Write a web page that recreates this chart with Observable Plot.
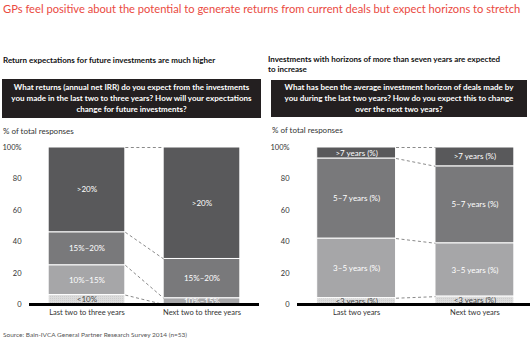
<!DOCTYPE html>
<html><head><meta charset="utf-8">
<script src="https://cdn.jsdelivr.net/npm/d3@7"></script>
<script src="https://cdn.jsdelivr.net/npm/@observablehq/plot@0.6"></script>
<style>
html,body{margin:0;padding:0;background:#fff;}
#root{position:relative;width:530px;height:344px;overflow:hidden;font-family:Lato,"Open Sans",sans-serif;color:#222;}
.abs{position:absolute;white-space:nowrap;}
.title{left:3px;top:2px;font-size:12px;color:#ea4a3f;}
.sub{font-size:8px;font-weight:bold;color:#111;line-height:10px;}
.box{background:#231f20;color:#fff;font-weight:bold;font-size:8px;line-height:11px;text-align:center;display:flex;align-items:center;justify-content:center;white-space:normal;}
.unit{font-size:8px;color:#333;}
.src{left:3px;top:331px;font-size:6.5px;color:#555;}
.chart{position:absolute;top:140px;}
</style></head>
<body><div id="root">
<div class="abs title" id="title">GPs feel positive about the potential to generate returns from current deals but expect horizons to stretch</div>
<div class="abs sub" style="left:3px;top:55px;">Return expectations for future investments are much higher</div>
<div class="abs sub" style="left:268px;top:54px;">Investments with horizons of more than seven years are expected<br>to increase</div>
<div class="abs box" style="left:2px;top:79px;width:259px;height:39px;">What returns (annual net IRR) do you expect from the investments<br>you made in the last two to three years? How will your expectations<br>change for future investments?</div>
<div class="abs box" style="left:271px;top:80px;width:256px;height:37px;">What has been the average investment horizon of deals made by<br>you during the last two years? How do you expect this to change<br>over the next two years?</div>
<div class="abs unit" style="left:3px;top:126px;">% of total responses</div>
<div class="abs unit" style="left:272px;top:125px;">% of total responses</div>
<div class="chart" id="left" style="left:0px;"></div>
<div class="chart" id="right" style="left:265px;"></div>
<div class="abs src">Source: Bain-IVCA General Partner Research Survey 2014 (n=53)</div>
</div>
<script>
// ---- data ----
const returnPeriods = ["Last two to three years", "Next two to three years"];
const returnSegments = ["<10%", "10%–15%", "15%–20%", ">20%"];
const returnLast = [6, 19, 21, 54];
const returnNext = [0, 4, 25, 71];

const horizonPeriods = ["Last two years", "Next two years"];
const horizonSegments = ["<3 years (%)", "3–5 years (%)", "5–7 years (%)", ">7 years (%)"];
const horizonLast = [4, 38, 51, 7];
const horizonNext = [5, 34, 49, 12];

const yTicks = [0, 20, 40, 60, 80, 100];
const segColors = ["#dadada", "#a6a6a8", "#79797b", "#59595b"];
const labelColors = ["#4a4a4a", "#ffffff", "#ffffff", "#ffffff"];

// fit title width
(function(){
  const t = document.getElementById("title");
  const target = 518;
  const w = t.getBoundingClientRect().width;
  t.style.fontSize = (12 * target / w) + "px";
})();

function buildChart(el, periods, segments, series, opts) {
  const hw = 1/3;
  const rows = [];
  const tops = [];
  series.forEach((vals, i) => {
    let acc = 0;
    const t = [];
    vals.forEach((v, k) => {
      rows.push({i, seg: segments[k], k, y1: acc, y2: acc + v, v});
      acc += v;
      t.push(acc);
    });
    tops.push(t);
  });
  const links = segments.map((s, k) => ({y1: tops[0][k], y2: tops[1][k]}));
  const labels = rows.filter(d => !(d.v === 0));
  const fillScale = d3.scaleOrdinal(segments, segColors);
  const textScale = d3.scaleOrdinal(segments, labelColors);

  const plot = Plot.plot({
    width: 265, height: 180,
    marginTop: 7, marginBottom: 16, marginLeft: opts.ml, marginRight: opts.mr,
    style: {fontFamily: "Lato, 'Open Sans', sans-serif", background: "transparent"},
    x: {type: "linear", domain: opts.xd, axis: null},
    y: {domain: [0, 100], axis: null},
    marks: [
      Plot.axisY({ticks: yTicks, tickSize: 0, tickPadding: 8, fontSize: 7.5, color: "#333", label: null,
                  tickFormat: d => d === 100 ? "100%" : String(d)}),
      Plot.axisX({ticks: [0, 1], tickSize: 0, tickPadding: 5, fontSize: 7.5, color: "#333", label: null,
                  tickFormat: i => periods[i]}),
      Plot.rectY(rows, {x1: d => d.i - hw, x2: d => d.i + hw, y1: "y1", y2: "y2",
                        fill: d => fillScale(d.seg), stroke: "#fff", strokeWidth: 1}),
      Plot.rectY(rows.filter(d => d.k === 0 && d.v > 0), {x1: d => d.i - hw, x2: d => d.i + hw, y1: "y1", y2: "y2",
                        fill: "url(#dots)", stroke: "#fff", strokeWidth: 1}),
      Plot.link(links, {x1: hw, x2: 1 - hw, y1: "y1", y2: "y2",
                        stroke: "#8a8a8a", strokeWidth: 1, strokeDasharray: "3,2.5"}),
      Plot.text(labels, {x: "i", y: d => (d.y1 + d.y2) / 2, text: "seg", fontSize: 8,
                         fill: d => textScale(d.seg)}),
      Plot.ruleY([0], {stroke: "#000", strokeWidth: 3})
    ]
  });
  const defs = document.createElementNS("http://www.w3.org/2000/svg", "defs");
  defs.innerHTML = '<pattern id="dots" width="2" height="2" patternUnits="userSpaceOnUse"><rect width="2" height="2" fill="#dcdcdc"/><rect width="1" height="1" fill="#cdcdcd"/></pattern>';
  plot.insertBefore(defs, plot.firstChild);
  el.appendChild(plot);
}

buildChart(document.getElementById("left"), returnPeriods, returnSegments, [returnLast, returnNext],
  {ml: 29, mr: 6, xd: [-0.5, 1.5]});
buildChart(document.getElementById("right"), horizonPeriods, horizonSegments, [horizonLast, horizonNext],
  {ml: 32, mr: 0, xd: [-0.5, 1.47]});
</script>
</body></html>
